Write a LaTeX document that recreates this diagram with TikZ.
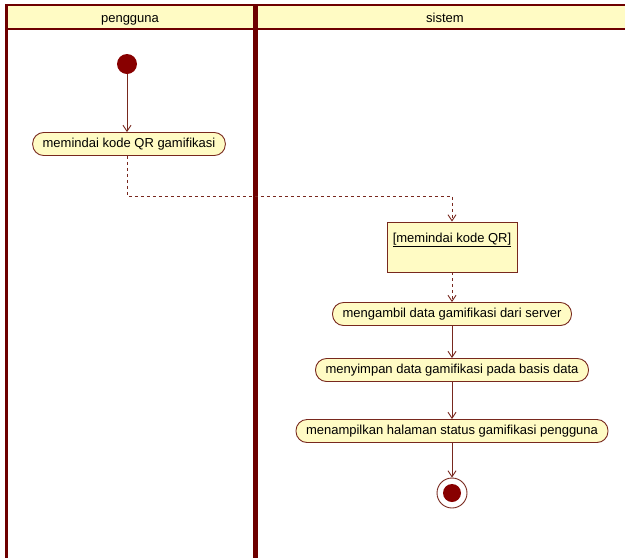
\documentclass[tikz,border=0pt]{standalone}
\usepackage{fontspec}
\setmainfont{Liberation Sans}
\usetikzlibrary{arrows.meta}
\definecolor{lanered}{RGB}{110,0,0}
\definecolor{edgebrown}{RGB}{120,40,30}
\definecolor{dotred}{RGB}{136,0,0}
\definecolor{paleyellow}{RGB}{255,251,196}
\begin{document}
\begin{tikzpicture}[x=1pt,y=-1pt,
  font=\fontsize{13}{15}\selectfont,
  action/.style={draw=edgebrown, fill=paleyellow, line width=0.9pt,
    rounded corners=11pt, minimum height=23pt, inner xsep=10pt, inner ysep=0pt},
  flow/.style={draw=edgebrown, line width=0.9pt, -{Straight Barb[length=6pt,width=8pt]}},
  objflow/.style={flow, dash pattern=on 3pt off 3pt},
  lanetitle/.style={anchor=base, inner sep=0pt}]
\useasboundingbox (0,0) rectangle (625,558);
\fill[white] (0,0) rectangle (625,558);

% swimlane headers and borders
\fill[paleyellow] (6,5) rectangle (625,29);
\draw[lanered, line width=2pt] (6,5) -- (625,5);
\draw[lanered, line width=2pt] (6,29) -- (625,29);
\draw[lanered, line width=3pt] (6.5,4) -- (6.5,558);
\draw[lanered, line width=4.5pt] (255.5,4) -- (255.5,558);
\node[lanetitle] (hdrA) at (130,22) {pengguna};
\node[lanetitle] (hdrB) at (445,22) {sistem};

% pengguna lane
\node[circle, fill=dotred, minimum size=20pt, inner sep=0pt] (start) at (127,64) {};
\node[action] (a1) at (129,144) {memindai kode QR gamifikasi};

% sistem lane
\node[draw=edgebrown, fill=paleyellow, line width=0.9pt, minimum width=130pt,
  minimum height=50pt, inner sep=0pt] (qr) at (452,247) {};
\node[anchor=north] (qrlabel) at ([yshift=-8pt]qr.north) {\underline{[memindai kode QR]}};
\node[action] (a2) at (452,314) {mengambil data gamifikasi dari server};
\node[action] (a3) at (452,370) {menyimpan data gamifikasi pada basis data};
\node[action] (a4) at (452,431) {menampilkan halaman status gamifikasi pengguna};
\node[circle, draw=edgebrown, fill=white, line width=0.9pt, minimum size=30pt, inner sep=0pt] (finish) at (452,493) {};
\node[circle, fill=dotred, minimum size=18pt, inner sep=0pt] (finishdot) at (finish) {};

% connectors
\coordinate (bendA) at (127,196);
\coordinate (bendB) at (452,196);
\draw[flow] (start) -- (start |- a1.north);
\draw[objflow] (bendA |- a1.south) -- (bendA) -- (bendB) -- (qr.north);
\draw[objflow] (qr.south) -- (a2.north);
\draw[flow] (a2.south) -- (a3.north);
\draw[flow] (a3.south) -- (a4.north);
\draw[flow] (a4.south) -- (finish.north);
\end{tikzpicture}
\end{document}
